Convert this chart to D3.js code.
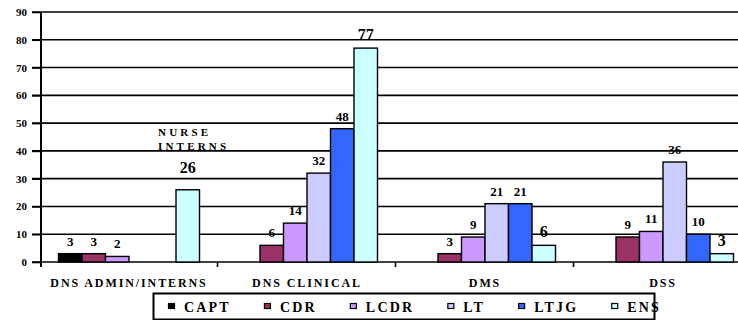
<!DOCTYPE html>
<html>
<head>
<meta charset="utf-8">
<script src="https://cdn.jsdelivr.net/npm/d3@7"></script>
<style>
  html, body { margin: 0; padding: 0; background: #fff; }
  svg { display: block; font-family: "Liberation Serif", "Times New Roman", serif; font-weight: bold; }
</style>
</head>
<body>
<svg id="chart" width="738" height="320"></svg>
<script>
// Officer headcount by directorate and rank
const categories = ["DNS ADMIN/INTERNS", "DNS CLINICAL", "DMS", "DSS"];
const ranks = ["CAPT", "CDR", "LCDR", "LT", "LTJG", "ENS"];
const colors = ["#000000", "#993366", "#CC99FF", "#CCCCFF", "#3366FF", "#CCFFFF"];

// one array per rank, in category order (null = no bar)
const capt = [3, null, null, null];
const cdr  = [3, 6, 3, 9];
const lcdr = [2, 14, 9, 11];
const lt   = [null, 32, 21, 36];
const ltjg = [null, 48, 21, 10];
const ens  = [26, 77, 6, 3];
const series = [capt, cdr, lcdr, lt, ltjg, ens];

const yTicks = [0, 10, 20, 30, 40, 50, 60, 70, 80, 90];
// value labels drawn in the larger type
const bigLabels = [["DNS ADMIN/INTERNS", "ENS"], ["DNS CLINICAL", "ENS"], ["DMS", "ENS"], ["DSS", "ENS"]];
const note = { category: "DNS ADMIN/INTERNS", rank: "ENS", lines: ["NURSE", "INTERNS"] };

const svg = d3.select("#chart");
const plot = { left: 40, right: 752, top: 12, bottom: 262 };
const serif = "'Liberation Serif', 'Times New Roman', serif";

const x0 = d3.scaleBand().domain(categories).range([plot.left, plot.right]);
// six bars fill the middle of each group, with an even gap on both sides
const x1 = d3.scaleBand().domain(ranks).range([18.5, x0.bandwidth() - 18.5]);
const y = d3.scaleLinear().domain([0, 90]).range([plot.bottom, plot.top]);

const rows = [];
categories.forEach((c, i) => ranks.forEach((r, j) => {
  const v = series[j][i];
  if (v != null) rows.push({ c, r, v, color: colors[j] });
}));

// annotation text sits beneath the gridlines
const noteX = x0(note.category) + x1(note.rank) - 18;
const noteY = y(series[ranks.indexOf(note.rank)][categories.indexOf(note.category)]);
svg.append("g").selectAll("text").data(note.lines).join("text")
  .attr("x", noteX)
  .attr("y", (d, i) => noteY - 54 + i * 14.5)
  .attr("font-size", 11)
  .attr("letter-spacing", 3.2)
  .text(d => d);

// horizontal gridlines
svg.append("g").selectAll("line").data(yTicks).join("line")
  .attr("x1", plot.left - 8).attr("x2", 738)
  .attr("y1", d => y(d)).attr("y2", d => y(d))
  .attr("stroke", "#000").attr("stroke-width", 1.6);

// y axis with tick labels
const yAxis = svg.append("g").attr("transform", `translate(${plot.left + 1},0)`)
  .call(d3.axisLeft(y).tickValues(yTicks).tickSize(9).tickPadding(5));
yAxis.select(".domain").remove();
yAxis.selectAll(".tick line").attr("stroke", "#000").attr("stroke-width", 1.6);
yAxis.selectAll(".tick text").attr("font-size", 11).attr("font-family", serif).attr("font-weight", "bold").attr("fill", "#000");
svg.append("line").attr("x1", plot.left + 1).attr("x2", plot.left + 1).attr("y1", plot.top).attr("y2", plot.bottom + 5)
  .attr("stroke", "#000").attr("stroke-width", 2);

// category boundary ticks
svg.append("g").selectAll("line").data(categories.slice(1)).join("line")
  .attr("x1", d => x0(d) - 0.5).attr("x2", d => x0(d) - 0.5)
  .attr("y1", plot.bottom).attr("y2", plot.bottom + 5)
  .attr("stroke", "#000").attr("stroke-width", 1.6);

// bars
svg.append("g").selectAll("rect").data(rows).join("rect")
  .attr("x", d => x0(d.c) + x1(d.r))
  .attr("y", d => y(d.v))
  .attr("width", x1.bandwidth())
  .attr("height", d => y(0) - y(d.v))
  .attr("fill", d => d.color)
  .attr("stroke", "#000").attr("stroke-width", 1.4);

// value labels
const isBig = d => bigLabels.some(([c, r]) => c === d.c && r === d.r);
const isNote = d => d.c === note.category && d.r === note.rank;
svg.append("g").selectAll("text").data(rows).join("text")
  .attr("x", d => x0(d.c) + x1(d.r) + x1.bandwidth() / 2)
  .attr("y", d => y(d.v) - (isNote(d) ? 17 : 8))
  .attr("text-anchor", "middle")
  .attr("font-size", d => isBig(d) ? 16 : 13)
  .text(d => d.v);

// x axis category labels
const xAxis = svg.append("g").attr("transform", `translate(0,${plot.bottom})`)
  .call(d3.axisBottom(x0).tickSize(0).tickPadding(16));
xAxis.select(".domain").remove();
xAxis.selectAll(".tick text").attr("font-size", 12).attr("font-family", serif)
  .attr("font-weight", "bold").attr("letter-spacing", 1.9).attr("fill", "#000");

// legend
const lg = svg.append("g");
lg.append("rect").attr("x", 153.5).attr("y", 293.5).attr("width", 501).attr("height", 26)
  .attr("fill", "#fff").attr("stroke", "#000").attr("stroke-width", 2);
let lx = 168;
ranks.forEach((r, j) => {
  lg.append("rect").attr("x", lx + 0.5).attr("y", 303.5).attr("width", 6).attr("height", 5)
    .attr("fill", colors[j]).attr("stroke", "#000").attr("stroke-width", 1.2);
  const t = lg.append("text").attr("x", lx + 16).attr("y", 311.5)
    .attr("font-size", 14).attr("letter-spacing", 2.2).text(r);
  lx += 16 + t.node().getComputedTextLength() + 33;
});
</script>
</body>
</html>
